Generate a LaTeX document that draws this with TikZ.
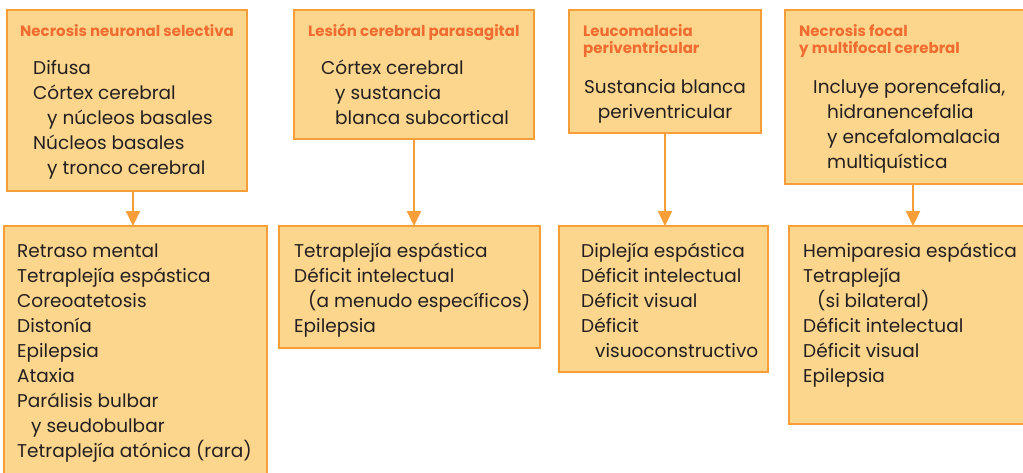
\documentclass[tikz,border=0pt]{standalone}
\usepackage{fontspec}
\setmainfont{Poppins}
\usetikzlibrary{arrows.meta}
\definecolor{boxfill}{RGB}{253,214,141}
\definecolor{boxline}{RGB}{247,158,56}
\definecolor{headcol}{RGB}{240,108,48}
\definecolor{txt}{RGB}{35,31,32}
\newcommand\tlines[1]{\begin{tabular}[t]{@{}l@{}}#1\end{tabular}}
\newcommand\tclines[1]{\begin{tabular}[t]{@{}c@{}}#1\end{tabular}}
\newcommand\ind{\hspace*{14pt}}
\begin{document}
\begin{tikzpicture}[x=1pt,y=-1pt,
  card/.style={draw=boxline,fill=boxfill,line width=2.6pt,inner sep=0pt,outer sep=0pt},
  head/.style={anchor=base west,text=headcol,inner sep=0pt,
    font=\fontsize{15}{17}\selectfont\bfseries},
  body/.style={anchor=base west,text=txt,inner sep=0pt,
    font=\fontsize{18.5}{25}\selectfont},
  arr/.style={draw=boxline,line width=2pt,-{Triangle[length=15pt,width=14pt]}}]
\useasboundingbox (0,0) rectangle (1023,472);
\clip (0,0) rectangle (1023,472);
% top boxes
\node[card,minimum width=240,minimum height=181] (A1) at (127,100.5) {};
\node[card,minimum width=240,minimum height=129] (A2) at (414,74.5) {};
\node[card,minimum width=192,minimum height=123] (A3) at (665,71.5) {};
\node[card,minimum width=256,minimum height=174] (A4) at (913,97) {};
% bottom boxes
\node[card,minimum width=263,minimum height=274] (B1) at (135.5,363) {};
\node[card,minimum width=261,minimum height=122] (B2) at (409.5,287) {};
\node[card,minimum width=209,minimum height=146] (B3) at (663.5,299) {};
\node[card,minimum width=248,minimum height=198] (B4) at (913,325) {};
% headers
\node[head] (h1) at (20,36.7) {\tlines{Necrosis neuronal selectiva}};
\node[head] (h2) at (308,36.7) {\tlines{Lesión cerebral parasagital}};
\node[head] (h3) at (583,36.7) {\tlines{Leucomalacia\\periventricular}};
\node[head] (h4) at (799,36.7) {\tlines{Necrosis focal\\y multifocal cerebral}};
% body of top boxes
\node[body] (t1) at (33,74) {\tlines{Difusa\\Córtex cerebral\\\ind y núcleos basales\\Núcleos basales\\\ind y tronco cerebral}};
\node[body] (t2) at (321,74) {\tlines{Córtex cerebral\\\ind y sustancia\\\ind blanca subcortical}};
\node[body,anchor=base] (t3) at (665,93) {\tclines{Sustancia blanca\\periventricular}};
\node[body] (t4) at (813,93) {\tlines{Incluye porencefalia,\\\ind hidranencefalia\\\ind y encefalomalacia\\\ind multiquística}};
% body of bottom boxes
\node[body] (b1) at (17,257) {\tlines{Retraso mental\\Tetraplejía espástica\\Coreoatetosis\\Distonía\\Epilepsia\\Ataxia\\Parálisis bulbar\\\ind y seudobulbar\\Tetraplejía atónica (rara)}};
\node[body] (b2) at (294,257) {\tlines{Tetraplejía espástica\\Déficit intelectual\\\ind (a menudo específicos)\\Epilepsia}};
\node[body] (b3) at (581,257) {\tlines{Diplejía espástica\\Déficit intelectual\\Déficit visual\\Déficit\\\ind visuoconstructivo}};
\node[body] (b4) at (803,257) {\tlines{Hemiparesia espástica\\Tetraplejía\\\ind (si bilateral)\\Déficit intelectual\\Déficit visual\\Epilepsia}};
% connectors
\draw[arr] ([xshift=6]A1.south) -- ([xshift=6]A1.south |- B1.north);
\draw[arr] (A2.south) -- (A2.south |- B2.north);
\draw[arr] (A3.south) -- (A3.south |- B3.north);
\draw[arr] (A4.south) -- (A4.south |- B4.north);
\end{tikzpicture}
\end{document}
